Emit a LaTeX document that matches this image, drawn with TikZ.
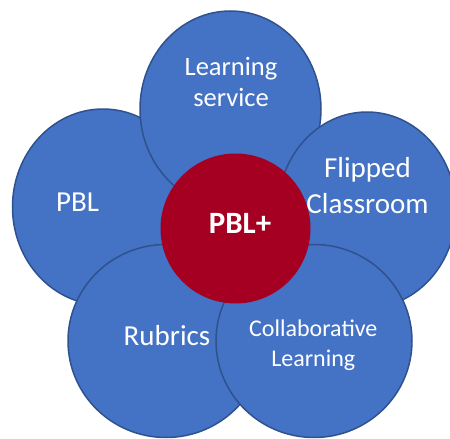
\documentclass[tikz,border=0pt]{standalone}
\usepackage{fontspec}
\setmainfont{Carlito}
\usetikzlibrary{shapes.geometric}
\definecolor{petal}{HTML}{4472C4}
\definecolor{petalline}{HTML}{2F528F}
\definecolor{core}{HTML}{A50021}
\tikzset{
  petalshape/.style={ellipse, fill=petal, draw=petalline, line width=1.5pt, inner sep=0pt},
  coreshape/.style={circle, fill=core, draw=none, inner sep=0pt, minimum size=150pt},
  lbl/.style={text=white, anchor=base, inner sep=0pt},
}
\begin{document}
\begin{tikzpicture}[x=1pt, y=-1pt]
\useasboundingbox (0,0) rectangle (450,439);
\clip (0,0) rectangle (450,439);
% petals (drawing order matters)
\node[petalshape, minimum width=181pt, minimum height=196pt] (pbl) at (103,207) {};
\node[petalshape, minimum width=181pt, minimum height=196pt] (ls) at (230.5,109) {};
\node[petalshape, minimum width=178pt, minimum height=196pt] (fc) at (367,210) {};
\node[petalshape, minimum width=196pt, minimum height=193pt] (rub) at (166,341) {};
\node[petalshape, minimum width=196pt, minimum height=193pt] (cl) at (314,341) {};
\node[coreshape] (core) at (235.5,228.5) {};
% labels
\node[lbl, font=\fontsize{26.5}{30}\selectfont] (ls1) at (231,75) {Learning};
\node[lbl, font=\fontsize{26.5}{30}\selectfont] (ls2) at (231,106) {service};
\node[lbl, font=\fontsize{29}{34}\selectfont] (pbltxt) at (77.5,211) {PBL};
\node[lbl, font=\fontsize{29}{34}\selectfont] (fc1) at (367.5,177) {Flipped};
\node[lbl, font=\fontsize{29}{34}\selectfont] (fc2) at (367.5,213) {Classroom};
\node[lbl, font=\fontsize{29}{34}\selectfont] (rubtxt) at (167,345) {Rubrics};
\node[lbl, font=\fontsize{24}{28}\selectfont] (cl1) at (313.3,336.5) {Collaborative};
\node[lbl, font=\fontsize{24}{28}\selectfont] (cl2) at (313.3,366) {Learning};
\node[lbl, font=\bfseries\fontsize{31}{36}\selectfont] (coretxt) at (240,233) {PBL+};
\end{tikzpicture}
\end{document}
